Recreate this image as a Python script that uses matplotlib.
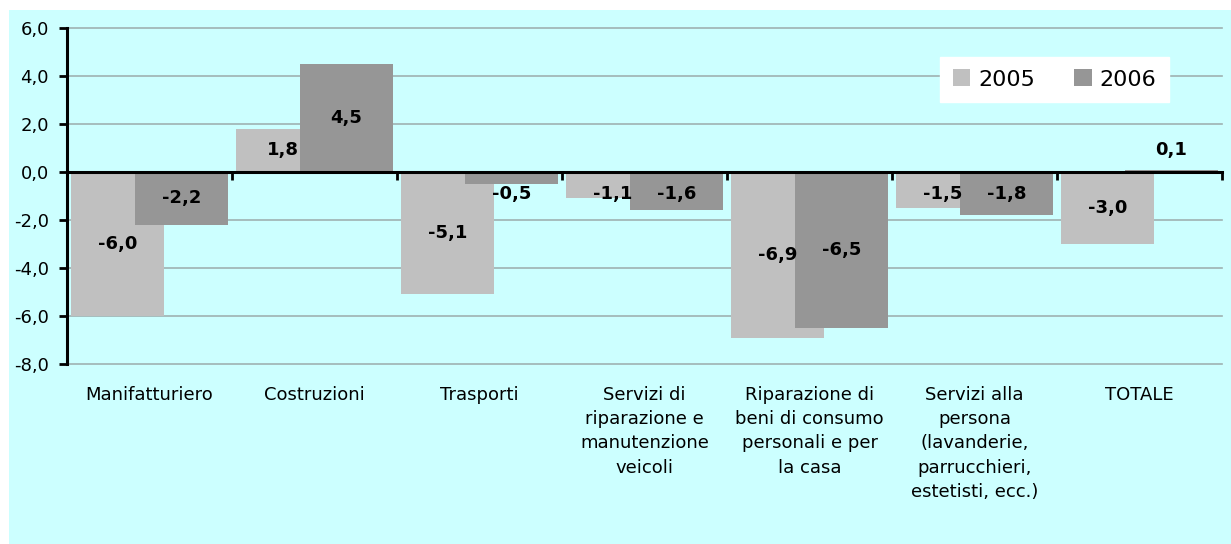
import matplotlib
matplotlib.use("Agg")
import matplotlib.pyplot as plt
import numpy as np
from matplotlib.patches import Rectangle
from matplotlib.ticker import FuncFormatter

# data
categories = ['Manifatturiero', 'Costruzioni', 'Trasporti',
              'Servizi di\nriparazione e\nmanutenzione\nveicoli',
              'Riparazione di\nbeni di consumo\npersonali e per\nla casa',
              'Servizi alla\npersona\n(lavanderie,\nparrucchieri,\nestetisti, ecc.)',
              'TOTALE']
years = ['2005', '2006']
v2005 = [-6.0, 1.8, -5.1, -1.1, -6.9, -1.5, -3.0]
v2006 = [-2.2, 4.5, -0.5, -1.6, -6.5, -1.8, 0.1]
yticks = [-8, -6, -4, -2, 0, 2, 4, 6]

# style
bg = '#CCFFFF'
c2005 = '#C0C0C0'
c2006 = '#969696'
grid_color = '#9FB2B2'
bar_w = 0.56
offset = 0.194

plt.rcParams['font.family'] = 'DejaVu Sans'

fig = plt.figure(figsize=(12.31, 5.44), dpi=100)
fig.patch.set_facecolor('white')
fig.patches.append(Rectangle((9 / 1231, 0), 1 - 9 / 1231, 1 - 10 / 544,
                             transform=fig.transFigure, facecolor=bg,
                             edgecolor='none', zorder=-10))

ax = fig.add_axes([67 / 1231, 1 - 364 / 544, 1155 / 1231, 336 / 544])
ax.set_facecolor(bg)

x = np.arange(len(categories)) + 0.5
b1 = ax.bar(x - offset, v2005, bar_w, color=c2005, label=years[0], zorder=2)
b2 = ax.bar(x + offset, v2006, bar_w, color=c2006, label=years[1], zorder=3)

# value labels, centred in the bar (pushed out when the bar is short)
for xs, vals in ((x - offset, v2005), (x + offset, v2006)):
    for xi, v in zip(xs, vals):
        yl = v / 2 if abs(v / 2) > 0.9 else np.sign(v) * 0.9
        ax.text(xi, yl, f'{v:.1f}'.replace('.', ','), ha='center', va='center',
                fontsize=13, fontweight='bold', color='black', zorder=5)

ax.set_xlim(0, len(categories))
ax.set_ylim(-8, 6)
ax.set_yticks(yticks)
ax.yaxis.set_major_formatter(FuncFormatter(lambda v, p: f'{v:.1f}'.replace('.', ',')))
ax.yaxis.grid(True, color=grid_color, linewidth=1.2)
for gl in ax.get_ygridlines():
    gl.set_clip_on(False)
ax.set_axisbelow(True)

for s in ('top', 'right'):
    ax.spines[s].set_visible(False)
ax.spines['left'].set_linewidth(2.2)
ax.spines['bottom'].set_position(('data', 0))
ax.spines['bottom'].set_linewidth(2.2)
ax.spines['bottom'].set_zorder(4)

ax.set_xticks(np.arange(len(categories) + 1))
ax.set_xticklabels([])
ax.set_xticks(x, categories, minor=True)
ax.tick_params(axis='x', which='major', direction='out', length=6, width=2)
ax.tick_params(axis='x', which='minor', length=0, pad=154, labelsize=13)
for t in ax.get_xticklabels(minor=True):
    t.set_linespacing(1.45)
    t.set_verticalalignment('top')
ax.tick_params(axis='y', direction='out', length=6, width=2, labelsize=13, pad=7)

leg = ax.legend(loc='center', bbox_to_anchor=(0.855, 0.847), ncol=2,
                fontsize=16, frameon=True, fancybox=False, framealpha=1,
                edgecolor='white', facecolor='white', handlelength=0.8,
                handleheight=0.8, handletextpad=0.35, columnspacing=1.75,
                borderpad=0.55, borderaxespad=0)

fig.savefig('out.png', dpi=100, facecolor=fig.get_facecolor())
